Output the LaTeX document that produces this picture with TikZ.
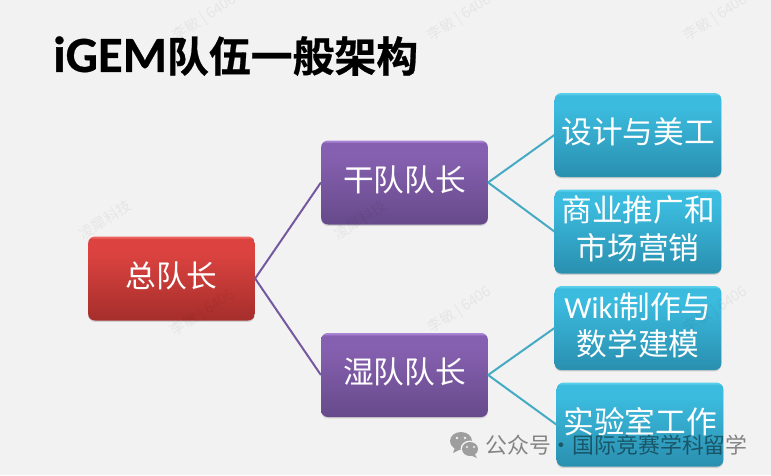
\documentclass[tikz,border=0pt]{standalone}
\usepackage{fontspec}
\setmainfont{Carlito}
\newfontfamily\cjk{Noto Sans CJK SC}
\newfontfamily\cjkheavy[UprightFont=* Bold,FakeBold=0.6]{Noto Sans CJK SC}
\newfontfamily\latinheavy[UprightFont=* Bold,FakeBold=0.6]{Carlito}
\usepackage{tikz}
\usetikzlibrary{chains,shadows}

\definecolor{slidebg}{HTML}{F2F2F2}
\definecolor{purpleline}{HTML}{7559A0}
\definecolor{blueline}{HTML}{45AAC4}
\definecolor{redlow}{HTML}{A52E2B}
\definecolor{redtop}{HTML}{DC4340}
\definecolor{redrim}{HTML}{EC6460}
\definecolor{purplelow}{HTML}{664A8A}
\definecolor{purpletop}{HTML}{8660B0}
\definecolor{purplerim}{HTML}{A884D4}
\definecolor{bluelow}{HTML}{2A8FAF}
\definecolor{bluetop}{HTML}{3BBBDE}
\definecolor{bluerim}{HTML}{58CFEA}
\pgfdeclareverticalshading{redfill}{100bp}{color(0bp)=(redlow);color(25bp)=(redlow);color(66bp)=(redtop);color(73.5bp)=(redtop);color(74.5bp)=(redrim);color(100bp)=(redrim)}
\pgfdeclareverticalshading{purplefill}{100bp}{color(0bp)=(purplelow);color(25bp)=(purplelow);color(66bp)=(purpletop);color(73.5bp)=(purpletop);color(74.5bp)=(purplerim);color(100bp)=(purplerim)}
\pgfdeclareverticalshading{bluefill}{100bp}{color(0bp)=(bluelow);color(25bp)=(bluelow);color(66bp)=(bluetop);color(73.5bp)=(bluetop);color(74.5bp)=(bluerim);color(100bp)=(bluerim)}

\begin{document}
\begin{tikzpicture}[x=.75pt,y=-.75pt]
\tikzstyle{every node}=[inner sep=0pt]
\tikzstyle{orgbox}=[rounded corners=5pt,minimum width=125pt,minimum height=63pt,align=center,text=white,text depth=6pt,
 font=\fontsize{23}{28}\selectfont\cjk,drop shadow={shadow xshift=0pt,shadow yshift=-1pt,opacity=.3}]
\tikzstyle{chief}=[orgbox,shading=redfill]
\tikzstyle{captain}=[orgbox,shading=purplefill]
\tikzstyle{team}=[orgbox,shading=bluefill]
\tikzstyle{purplelink}=[draw=purpleline,line width=1.5pt]
\tikzstyle{bluelink}=[draw=blueline,line width=1.5pt]
\tikzstyle{faintmark}=[rotate=33,text=black,text opacity=.05,font=\fontsize{11}{11}\selectfont\cjk]
\useasboundingbox (0,0) rectangle (771,475);
\fill[slidebg] (0,0) rectangle (771,475);

\node [anchor=west,font=\fontsize{31.4}{31.4}\selectfont] (title) at (53,56)
 {{\latinheavy\fontsize{38}{38}\selectfont iGEM}{\cjkheavy 队伍一般架构}};

\node [chief] (zong) at (171.5,278.5) {总队长};
\node [captain] (gan) at (404.5,182.5) {干队队长};
\node [captain] (shi) at (404.5,375) {湿队队长};
\begin{scope}[start chain=1 going below,node distance=9pt]
 \node [on chain=1,team] at (638,135) (sheji) {设计与美工};
 \node [on chain=1,team] (shangye) {商业推广和\\市场营销};
 \node [on chain=1,team] (wiki) {{\rmfamily Wiki}制作与\\数学建模};
 \node [on chain=1,team,xshift=1.5pt] (shiyan) {实验室工作};
\end{scope}

\draw [purplelink] (zong.east) -- (gan.west);
\draw [purplelink] (zong.east) -- (shi.west);
\draw [bluelink] (gan.east) -- (sheji.west);
\draw [bluelink] (gan.east) -- (shangye.west);
\draw [bluelink] (shi.east) -- (wiki.west);
\draw [bluelink] (shi.east) -- (shiyan.west);

% faint marks across the slide
\foreach \x/\y [count=\i] in {205/18,460/18,716/18,203/313,460/310,716/310}
 \node [faintmark] (mark\i) at (\x,\y) {李敏 | 6406};
\foreach \x [count=\i] in {105,360}
 \node [faintmark] (tag\i) at (\x,220) {凌犀科技};

% account line at the bottom
\fill [black!38] (461,441) ellipse (11 and 9);
\fill [black!38] (455,447) -- (453,453) -- (461,449) -- cycle;
\fill [slidebg] (470,449) ellipse (9.5 and 8.5);
\fill [black!38] (470,449) ellipse (8 and 7);
\fill [black!38] (474,453) -- (477,458) -- (470,455) -- cycle;
\foreach \x/\y in {457/438,465/438}
 \fill [slidebg] (\x,\y) circle (1.4);
\foreach \x/\y in {467/447,474/447}
 \fill [slidebg] (\x,\y) circle (1.1);
\node [anchor=west,text=black,text opacity=.45,font=\fontsize{16.4}{16.4}\selectfont\cjk] (account) at (485,445)
 {公众号·国际竞赛学科留学};
\end{tikzpicture}
\end{document}
